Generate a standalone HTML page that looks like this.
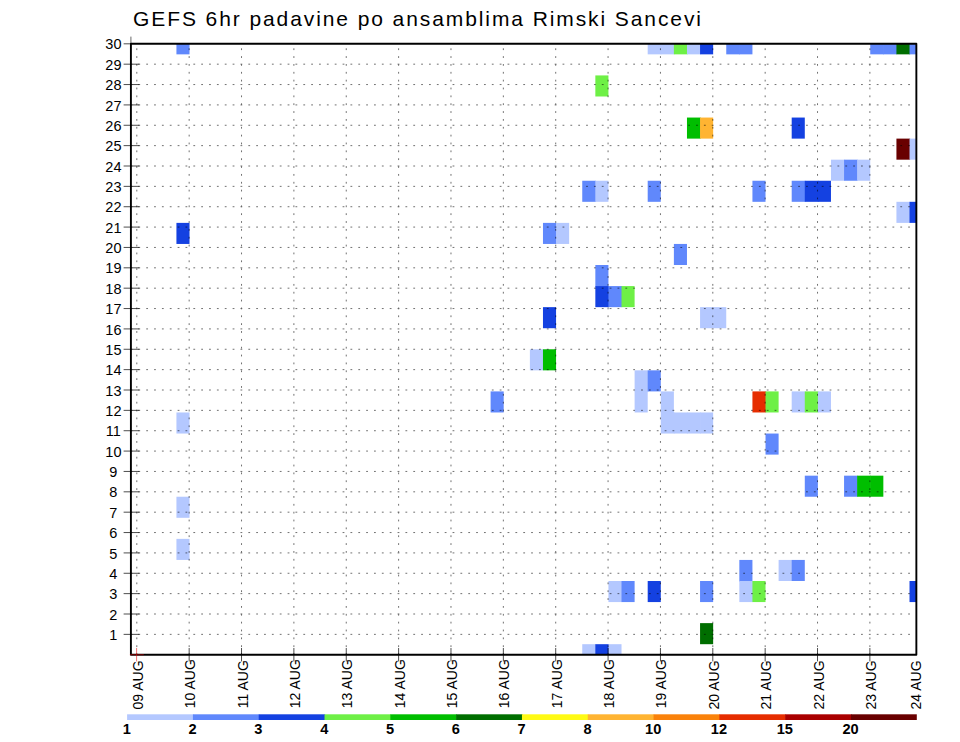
<!DOCTYPE html>
<html><head><meta charset="utf-8"><title>GEFS 6hr padavine po ansamblima Rimski Sancevi</title>
<style>html,body{margin:0;padding:0;background:#fff}svg{display:block}text{font-family:"Liberation Sans",sans-serif;font-weight:bold;font-size:13.5px;fill:#000}</style></head><body>
<svg width="960" height="742" viewBox="0 0 960 742">
<rect width="960" height="742" fill="#fff"/>
<g>
<rect x="176.43" y="43.82" width="13.09" height="10.53" fill="#6088fc"/>
<rect x="647.70" y="43.82" width="13.69" height="10.53" fill="#b4c8ff"/>
<rect x="660.79" y="43.82" width="13.69" height="10.53" fill="#b4c8ff"/>
<rect x="673.88" y="43.82" width="13.69" height="10.53" fill="#6ef046"/>
<rect x="686.97" y="43.82" width="13.69" height="10.53" fill="#b4c8ff"/>
<rect x="700.06" y="43.82" width="13.09" height="10.53" fill="#1441e1"/>
<rect x="726.25" y="43.82" width="13.69" height="10.53" fill="#6088fc"/>
<rect x="739.34" y="43.82" width="13.09" height="10.53" fill="#6088fc"/>
<rect x="870.25" y="43.82" width="13.69" height="10.53" fill="#6088fc"/>
<rect x="883.34" y="43.82" width="13.69" height="10.53" fill="#6088fc"/>
<rect x="896.43" y="43.82" width="13.69" height="10.53" fill="#006e00"/>
<rect x="909.52" y="43.82" width="6.85" height="10.53" fill="#6088fc"/>
<rect x="595.34" y="75.42" width="13.09" height="21.07" fill="#6ef046"/>
<rect x="686.97" y="117.55" width="13.69" height="21.07" fill="#00be00"/>
<rect x="700.06" y="117.55" width="13.09" height="21.07" fill="#ffb432"/>
<rect x="791.70" y="117.55" width="13.09" height="21.07" fill="#1441e1"/>
<rect x="896.43" y="138.61" width="13.69" height="21.07" fill="#690000"/>
<rect x="909.52" y="138.61" width="6.85" height="21.07" fill="#b4c8ff"/>
<rect x="830.97" y="159.68" width="13.69" height="21.07" fill="#b4c8ff"/>
<rect x="844.06" y="159.68" width="13.69" height="21.07" fill="#6088fc"/>
<rect x="857.15" y="159.68" width="13.09" height="21.07" fill="#b4c8ff"/>
<rect x="582.25" y="180.75" width="13.69" height="21.07" fill="#6088fc"/>
<rect x="595.34" y="180.75" width="13.09" height="21.07" fill="#b4c8ff"/>
<rect x="647.70" y="180.75" width="13.09" height="21.07" fill="#6088fc"/>
<rect x="752.43" y="180.75" width="13.09" height="21.07" fill="#6088fc"/>
<rect x="791.70" y="180.75" width="13.69" height="21.07" fill="#6088fc"/>
<rect x="804.79" y="180.75" width="13.69" height="21.07" fill="#1441e1"/>
<rect x="817.88" y="180.75" width="13.09" height="21.07" fill="#1441e1"/>
<rect x="896.43" y="201.81" width="13.69" height="21.07" fill="#b4c8ff"/>
<rect x="909.52" y="201.81" width="6.85" height="21.07" fill="#1441e1"/>
<rect x="176.43" y="222.88" width="13.09" height="21.07" fill="#1441e1"/>
<rect x="542.97" y="222.88" width="13.69" height="21.07" fill="#6088fc"/>
<rect x="556.06" y="222.88" width="13.09" height="21.07" fill="#b4c8ff"/>
<rect x="673.88" y="243.94" width="13.09" height="21.07" fill="#6088fc"/>
<rect x="595.34" y="265.01" width="13.09" height="21.67" fill="#6088fc"/>
<rect x="595.34" y="286.08" width="13.69" height="21.07" fill="#1441e1"/>
<rect x="608.43" y="286.08" width="13.69" height="21.07" fill="#6088fc"/>
<rect x="621.52" y="286.08" width="13.09" height="21.07" fill="#6ef046"/>
<rect x="542.97" y="307.14" width="13.09" height="21.07" fill="#1441e1"/>
<rect x="700.06" y="307.14" width="13.69" height="21.07" fill="#b4c8ff"/>
<rect x="713.15" y="307.14" width="13.09" height="21.07" fill="#b4c8ff"/>
<rect x="529.88" y="349.27" width="13.69" height="21.07" fill="#b4c8ff"/>
<rect x="542.97" y="349.27" width="13.09" height="21.07" fill="#00be00"/>
<rect x="634.61" y="370.34" width="13.69" height="21.67" fill="#b4c8ff"/>
<rect x="647.70" y="370.34" width="13.09" height="21.07" fill="#6088fc"/>
<rect x="490.61" y="391.40" width="13.09" height="21.07" fill="#6088fc"/>
<rect x="634.61" y="391.40" width="13.09" height="21.07" fill="#b4c8ff"/>
<rect x="660.79" y="391.40" width="13.09" height="21.67" fill="#b4c8ff"/>
<rect x="752.43" y="391.40" width="13.69" height="21.07" fill="#e62d00"/>
<rect x="765.52" y="391.40" width="13.09" height="21.07" fill="#6ef046"/>
<rect x="791.70" y="391.40" width="13.69" height="21.07" fill="#b4c8ff"/>
<rect x="804.79" y="391.40" width="13.69" height="21.07" fill="#6ef046"/>
<rect x="817.88" y="391.40" width="13.09" height="21.07" fill="#b4c8ff"/>
<rect x="176.43" y="412.47" width="13.09" height="21.07" fill="#b4c8ff"/>
<rect x="660.79" y="412.47" width="13.69" height="21.07" fill="#b4c8ff"/>
<rect x="673.88" y="412.47" width="13.69" height="21.07" fill="#b4c8ff"/>
<rect x="686.97" y="412.47" width="13.69" height="21.07" fill="#b4c8ff"/>
<rect x="700.06" y="412.47" width="13.09" height="21.07" fill="#b4c8ff"/>
<rect x="765.52" y="433.54" width="13.09" height="21.07" fill="#6088fc"/>
<rect x="804.79" y="475.67" width="13.09" height="21.07" fill="#6088fc"/>
<rect x="844.06" y="475.67" width="13.69" height="21.07" fill="#6088fc"/>
<rect x="857.15" y="475.67" width="13.69" height="21.07" fill="#00be00"/>
<rect x="870.25" y="475.67" width="13.09" height="21.07" fill="#00be00"/>
<rect x="176.43" y="496.73" width="13.09" height="21.07" fill="#b4c8ff"/>
<rect x="176.43" y="538.87" width="13.09" height="21.07" fill="#b4c8ff"/>
<rect x="739.34" y="559.93" width="13.09" height="21.67" fill="#6088fc"/>
<rect x="778.61" y="559.93" width="13.69" height="21.07" fill="#b4c8ff"/>
<rect x="791.70" y="559.93" width="13.09" height="21.07" fill="#6088fc"/>
<rect x="608.43" y="581.00" width="13.69" height="21.07" fill="#b4c8ff"/>
<rect x="621.52" y="581.00" width="13.09" height="21.07" fill="#6088fc"/>
<rect x="647.70" y="581.00" width="13.09" height="21.07" fill="#1441e1"/>
<rect x="700.06" y="581.00" width="13.09" height="21.07" fill="#6088fc"/>
<rect x="739.34" y="581.00" width="13.69" height="21.07" fill="#b4c8ff"/>
<rect x="752.43" y="581.00" width="13.09" height="21.07" fill="#6ef046"/>
<rect x="909.52" y="581.00" width="6.85" height="21.07" fill="#1441e1"/>
<rect x="700.06" y="623.13" width="13.09" height="21.07" fill="#006e00"/>
<rect x="582.25" y="644.19" width="13.69" height="10.53" fill="#b4c8ff"/>
<rect x="595.34" y="644.19" width="13.69" height="10.53" fill="#1441e1"/>
<rect x="608.43" y="644.19" width="13.09" height="10.53" fill="#b4c8ff"/>
</g>
<g stroke="#000" stroke-width="0.9" stroke-dasharray="1.8 6.055" fill="none" opacity="0.62">
<path d="M130.51 634.36H912.36"/>
<path d="M130.51 614.00H912.36"/>
<path d="M130.51 593.64H912.36"/>
<path d="M130.51 573.27H912.36"/>
<path d="M130.51 552.91H912.36"/>
<path d="M130.51 532.55H912.36"/>
<path d="M130.51 512.18H912.36"/>
<path d="M130.51 491.82H912.36"/>
<path d="M130.51 471.45H912.36"/>
<path d="M130.51 451.09H912.36"/>
<path d="M130.51 430.73H912.36"/>
<path d="M130.51 410.36H912.36"/>
<path d="M130.51 390.00H912.36"/>
<path d="M130.51 369.64H912.36"/>
<path d="M130.51 349.27H912.36"/>
<path d="M130.51 328.91H912.36"/>
<path d="M130.51 308.55H912.36"/>
<path d="M130.51 288.18H912.36"/>
<path d="M130.51 267.82H912.36"/>
<path d="M130.51 247.45H912.36"/>
<path d="M130.51 227.09H912.36"/>
<path d="M130.51 206.73H912.36"/>
<path d="M130.51 186.36H912.36"/>
<path d="M130.51 166.00H912.36"/>
<path d="M130.51 145.64H912.36"/>
<path d="M130.51 125.27H912.36"/>
<path d="M130.51 104.91H912.36"/>
<path d="M130.51 84.55H912.36"/>
<path d="M130.51 64.18H912.36"/>
<path d="M136.80 654.93V43.82"/>
<path d="M189.16 654.93V43.82"/>
<path d="M241.53 654.93V43.82"/>
<path d="M293.89 654.93V43.82"/>
<path d="M346.25 654.93V43.82"/>
<path d="M398.62 654.93V43.82"/>
<path d="M450.98 654.93V43.82"/>
<path d="M503.35 654.93V43.82"/>
<path d="M555.71 654.93V43.82"/>
<path d="M608.07 654.93V43.82"/>
<path d="M660.44 654.93V43.82"/>
<path d="M712.80 654.93V43.82"/>
<path d="M765.16 654.93V43.82"/>
<path d="M817.53 654.93V43.82"/>
<path d="M869.89 654.93V43.82"/>
</g>
<g stroke="#000" stroke-width="0.7" fill="none">
<path d="M123.61 634.36H139.31"/>
<path d="M123.61 614.00H139.31"/>
<path d="M123.61 593.64H139.31"/>
<path d="M123.61 573.27H139.31"/>
<path d="M123.61 552.91H139.31"/>
<path d="M123.61 532.55H139.31"/>
<path d="M123.61 512.18H139.31"/>
<path d="M123.61 491.82H139.31"/>
<path d="M123.61 471.45H139.31"/>
<path d="M123.61 451.09H139.31"/>
<path d="M123.61 430.73H139.31"/>
<path d="M123.61 410.36H139.31"/>
<path d="M123.61 390.00H139.31"/>
<path d="M123.61 369.64H139.31"/>
<path d="M123.61 349.27H139.31"/>
<path d="M123.61 328.91H139.31"/>
<path d="M123.61 308.55H139.31"/>
<path d="M123.61 288.18H139.31"/>
<path d="M123.61 267.82H139.31"/>
<path d="M123.61 247.45H139.31"/>
<path d="M123.61 227.09H139.31"/>
<path d="M123.61 206.73H139.31"/>
<path d="M123.61 186.36H139.31"/>
<path d="M123.61 166.00H139.31"/>
<path d="M123.61 145.64H139.31"/>
<path d="M123.61 125.27H139.31"/>
<path d="M123.61 104.91H139.31"/>
<path d="M123.61 84.55H139.31"/>
<path d="M123.61 64.18H139.31"/>
<path d="M123.61 43.82H130.91"/>
<path d="M189.16 648.03V661.43"/>
<path d="M241.53 648.03V661.43"/>
<path d="M293.89 648.03V661.43"/>
<path d="M346.25 648.03V661.43"/>
<path d="M398.62 648.03V661.43"/>
<path d="M450.98 648.03V661.43"/>
<path d="M503.35 648.03V661.43"/>
<path d="M555.71 648.03V661.43"/>
<path d="M608.07 648.03V661.43"/>
<path d="M660.44 648.03V661.43"/>
<path d="M712.80 648.03V661.43"/>
<path d="M765.16 648.03V661.43"/>
<path d="M817.53 648.03V661.43"/>
<path d="M869.89 648.03V661.43"/>
<path d="M130.91 36.62V43.82" stroke-width="0.6"/>
</g>
<rect x="130.91" y="43.82" width="785.45" height="610.91" fill="none" stroke="#000" stroke-width="1.9" stroke-linejoin="round"/>
<path d="M136.60 648.03V661.43M129.80 654.73H143.80" stroke="#e00000" stroke-width="0.55" fill="none"/>
<text x="133" y="25.5" style="font-size:21px;font-weight:normal" textLength="568" lengthAdjust="spacing">GEFS 6hr padavine po ansamblima Rimski Sancevi</text>
<g style="font-size:14.5px;font-weight:normal" text-anchor="middle">
<text x="113.4" y="639.96" style="font-size:14.5px;font-weight:normal">1</text>
<text x="113.4" y="619.60" style="font-size:14.5px;font-weight:normal">2</text>
<text x="113.4" y="599.24" style="font-size:14.5px;font-weight:normal">3</text>
<text x="113.4" y="578.87" style="font-size:14.5px;font-weight:normal">4</text>
<text x="113.4" y="558.51" style="font-size:14.5px;font-weight:normal">5</text>
<text x="113.4" y="538.15" style="font-size:14.5px;font-weight:normal">6</text>
<text x="113.4" y="517.78" style="font-size:14.5px;font-weight:normal">7</text>
<text x="113.4" y="497.42" style="font-size:14.5px;font-weight:normal">8</text>
<text x="113.4" y="477.05" style="font-size:14.5px;font-weight:normal">9</text>
<text x="113.4" y="456.69" style="font-size:14.5px;font-weight:normal">10</text>
<text x="113.4" y="436.33" style="font-size:14.5px;font-weight:normal">11</text>
<text x="113.4" y="415.96" style="font-size:14.5px;font-weight:normal">12</text>
<text x="113.4" y="395.60" style="font-size:14.5px;font-weight:normal">13</text>
<text x="113.4" y="375.24" style="font-size:14.5px;font-weight:normal">14</text>
<text x="113.4" y="354.87" style="font-size:14.5px;font-weight:normal">15</text>
<text x="113.4" y="334.51" style="font-size:14.5px;font-weight:normal">16</text>
<text x="113.4" y="314.15" style="font-size:14.5px;font-weight:normal">17</text>
<text x="113.4" y="293.78" style="font-size:14.5px;font-weight:normal">18</text>
<text x="113.4" y="273.42" style="font-size:14.5px;font-weight:normal">19</text>
<text x="113.4" y="253.05" style="font-size:14.5px;font-weight:normal">20</text>
<text x="113.4" y="232.69" style="font-size:14.5px;font-weight:normal">21</text>
<text x="113.4" y="212.33" style="font-size:14.5px;font-weight:normal">22</text>
<text x="113.4" y="191.96" style="font-size:14.5px;font-weight:normal">23</text>
<text x="113.4" y="171.60" style="font-size:14.5px;font-weight:normal">24</text>
<text x="113.4" y="151.24" style="font-size:14.5px;font-weight:normal">25</text>
<text x="113.4" y="130.87" style="font-size:14.5px;font-weight:normal">26</text>
<text x="113.4" y="110.51" style="font-size:14.5px;font-weight:normal">27</text>
<text x="113.4" y="90.15" style="font-size:14.5px;font-weight:normal">28</text>
<text x="113.4" y="69.78" style="font-size:14.5px;font-weight:normal">29</text>
<text x="113.4" y="49.42" style="font-size:14.5px;font-weight:normal">30</text>
</g>
<g>
<text transform="translate(142.80 709.48) rotate(-90)" style="font-size:14px;font-weight:normal">09 AUG</text>
<text transform="translate(195.16 708.17) rotate(-90)" style="font-size:14px;font-weight:normal">10 AUG</text>
<text transform="translate(247.53 708.17) rotate(-90)" style="font-size:14px;font-weight:normal">11 AUG</text>
<text transform="translate(299.89 708.17) rotate(-90)" style="font-size:14px;font-weight:normal">12 AUG</text>
<text transform="translate(352.25 708.17) rotate(-90)" style="font-size:14px;font-weight:normal">13 AUG</text>
<text transform="translate(404.62 708.17) rotate(-90)" style="font-size:14px;font-weight:normal">14 AUG</text>
<text transform="translate(456.98 708.17) rotate(-90)" style="font-size:14px;font-weight:normal">15 AUG</text>
<text transform="translate(509.35 708.17) rotate(-90)" style="font-size:14px;font-weight:normal">16 AUG</text>
<text transform="translate(561.71 708.17) rotate(-90)" style="font-size:14px;font-weight:normal">17 AUG</text>
<text transform="translate(614.07 708.17) rotate(-90)" style="font-size:14px;font-weight:normal">18 AUG</text>
<text transform="translate(666.44 708.17) rotate(-90)" style="font-size:14px;font-weight:normal">19 AUG</text>
<text transform="translate(718.80 709.48) rotate(-90)" style="font-size:14px;font-weight:normal">20 AUG</text>
<text transform="translate(771.16 709.48) rotate(-90)" style="font-size:14px;font-weight:normal">21 AUG</text>
<text transform="translate(823.53 709.48) rotate(-90)" style="font-size:14px;font-weight:normal">22 AUG</text>
<text transform="translate(875.89 709.48) rotate(-90)" style="font-size:14px;font-weight:normal">23 AUG</text>
<text transform="translate(920.80 709.48) rotate(-90)" style="font-size:14px;font-weight:normal">24 AUG</text>
</g>
<g>
<rect x="127.10" y="714.3" width="66.41" height="5.7" fill="#b4c8ff"/>
<rect x="192.91" y="714.3" width="66.41" height="5.7" fill="#6088fc"/>
<rect x="258.72" y="714.3" width="66.41" height="5.7" fill="#1441e1"/>
<rect x="324.52" y="714.3" width="66.41" height="5.7" fill="#6ef046"/>
<rect x="390.33" y="714.3" width="66.41" height="5.7" fill="#00be00"/>
<rect x="456.14" y="714.3" width="66.41" height="5.7" fill="#006e00"/>
<rect x="521.95" y="714.3" width="66.41" height="5.7" fill="#fffa14"/>
<rect x="587.76" y="714.3" width="66.41" height="5.7" fill="#ffb432"/>
<rect x="653.57" y="714.3" width="66.41" height="5.7" fill="#fa820a"/>
<rect x="719.37" y="714.3" width="66.41" height="5.7" fill="#e62d00"/>
<rect x="785.18" y="714.3" width="66.41" height="5.7" fill="#aa0000"/>
<rect x="850.99" y="714.3" width="65.81" height="5.7" fill="#690000"/>
</g>
<g stroke="#fff" stroke-width="0.2" paint-order="stroke">
<text x="122.72" y="734.1" style="font-size:14.6px">1</text>
<text x="188.53" y="734.1" style="font-size:14.6px">2</text>
<text x="254.34" y="734.1" style="font-size:14.6px">3</text>
<text x="320.15" y="734.1" style="font-size:14.6px">4</text>
<text x="385.96" y="734.1" style="font-size:14.6px">5</text>
<text x="451.77" y="734.1" style="font-size:14.6px">6</text>
<text x="517.57" y="734.1" style="font-size:14.6px">7</text>
<text x="583.38" y="734.1" style="font-size:14.6px">8</text>
<text x="645.02" y="734.1" style="font-size:14.6px">10</text>
<text x="710.82" y="734.1" style="font-size:14.6px">12</text>
<text x="776.63" y="734.1" style="font-size:14.6px">15</text>
<text x="842.44" y="734.1" style="font-size:14.6px">20</text>
</g>
</svg>
</body></html>
